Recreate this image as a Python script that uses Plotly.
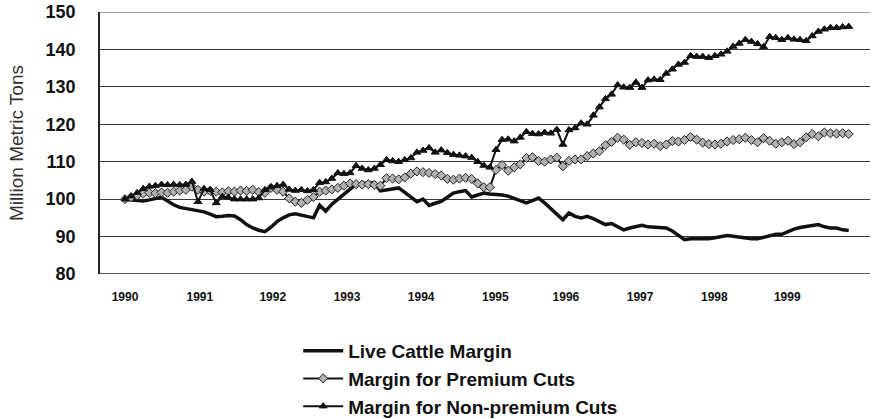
import plotly.graph_objects as go

years = ["1990", "1991", "1992", "1993", "1994", "1995", "1996", "1997", "1998", "1999"]
months = list(range(120))

live_cattle = [
    100.0, 99.8, 99.6, 99.5, 99.8, 100.2, 100.5, 99.5, 98.5, 97.8, 97.5, 97.3,
    97.0, 96.6, 96.0, 95.3, 95.4, 95.6, 95.5, 94.5, 93.2, 92.3, 91.7, 91.3,
    92.5, 94.0, 95.0, 95.8, 96.1, 95.7, 95.2, 95.0, 98.4, 96.8, 98.6, 100.0,
    101.3, 102.6, 104.0, 104.2, 104.3, 104.4, 102.2, 102.4, 102.7, 103.0, 101.8, 100.5,
    99.3, 100.0, 98.3, 98.9, 99.4, 100.5, 101.6, 102.0, 102.3, 100.6, 101.2, 101.6,
    101.4, 101.3, 101.1, 100.8, 100.2, 99.4, 99.0, 99.6, 100.3, 99.0, 97.5, 96.0,
    94.5, 96.3, 95.4, 95.0, 95.4, 94.8, 94.0, 93.2, 93.5, 92.7, 91.8, 92.3,
    92.6, 93.0, 92.6, 92.5, 92.6, 92.3, 91.5, 90.2, 89.2, 89.4, 89.4, 89.4,
    89.4, 89.7, 90.0, 90.3, 90.1, 89.8, 89.6, 89.4, 89.4, 89.8, 90.4, 90.6,
    90.6, 91.3, 92.0, 92.4, 92.6, 92.8, 93.2, 92.6, 92.3, 92.3, 91.8, 91.6,
]

premium = [
    100.0, 100.5, 101.0, 101.5, 101.7, 101.6, 101.8, 101.7, 102.0, 102.3, 102.5, 103.3,
    102.5, 102.0, 102.2, 102.0, 101.8, 102.1, 102.0, 102.3, 102.2, 102.5, 101.9, 101.7,
    103.0, 102.5, 102.0, 100.2, 99.3, 99.0, 99.8, 100.6, 102.0, 102.3, 102.6, 103.0,
    103.6, 104.2, 104.0, 103.9, 104.0, 103.8, 103.6, 105.6, 105.5, 105.3, 105.8, 106.8,
    107.4, 107.2, 107.0, 106.7, 106.3, 105.4, 105.2, 105.5, 105.7, 105.4, 104.2, 103.2,
    103.2, 107.8, 109.1, 107.6, 108.5, 109.3, 111.0, 111.2, 110.2, 110.0, 110.6, 111.1,
    108.8, 110.2, 110.6, 110.6, 111.5, 112.2, 112.8, 114.4, 115.3, 116.4, 115.9, 114.5,
    115.2, 115.0, 114.6, 114.8, 114.2, 114.6, 115.5, 115.4, 115.8, 116.6, 115.9, 115.1,
    114.7, 114.6, 114.8, 115.4, 115.8, 116.0, 116.4, 115.8, 115.2, 116.3, 115.6, 114.8,
    115.2, 115.6, 114.7, 115.2, 116.5, 117.4, 116.8, 117.8, 117.6, 117.5, 117.6, 117.4,
]

non_premium = [
    100.0, 100.8, 101.7, 102.8, 103.4, 103.6, 103.9, 103.8, 103.9, 103.8, 103.9, 104.7,
    99.3, 102.8, 102.5, 99.0, 100.7, 100.5, 100.0, 100.0, 100.0, 100.0, 100.3, 102.5,
    103.2, 103.6, 103.9, 102.6, 102.3, 102.5, 102.2, 102.5, 104.4, 104.6, 105.5, 107.0,
    106.8, 107.0, 108.9, 108.2, 107.8, 108.2, 109.2, 110.5, 110.2, 110.0, 110.5, 111.0,
    112.5, 113.0, 113.7, 112.5, 113.1, 112.4, 111.9, 111.7, 111.5, 111.1, 110.0, 109.0,
    108.5, 113.2, 115.9, 116.0, 115.5, 116.5, 118.0, 117.5, 117.4, 117.8, 117.6, 118.6,
    114.6, 118.5, 119.0, 120.3, 120.0, 122.4, 124.6, 126.8, 128.0, 130.5, 129.9, 129.8,
    131.2, 129.8, 131.8, 132.0, 131.9, 133.6, 134.7, 136.0, 136.5, 138.3, 138.1, 138.1,
    137.8, 138.3, 138.7, 139.5, 140.8, 141.6, 142.6, 142.1, 141.5, 140.7, 143.4, 143.1,
    142.6, 143.1, 142.7, 142.6, 142.3, 143.6, 144.8, 145.4, 145.8, 145.8, 146.0, 146.1,
]

y_ticks = [80, 90, 100, 110, 120, 130, 140, 150]

# positions (in month units) where the year labels sit in the original picture
year_tick_pos = [0, 12.3, 24.3, 36.5, 48.7, 60.9, 72.5, 84.7, 96.9, 108.9]

FONT = "Liberation Sans, Arial, sans-serif"

fig = go.Figure()
fig.add_trace(go.Scatter(
    x=months, y=live_cattle, mode="lines", name="<b>Live Cattle Margin</b>",
    line=dict(color="#111111", width=3.5), legendgroup="a",
))
fig.add_trace(go.Scatter(
    x=months, y=premium, mode="lines+markers", name="<b>Margin for Premium Cuts</b>",
    line=dict(color="#111111", width=2),
    marker=dict(symbol="diamond", size=7, color="#b0b0b0", line=dict(color="#222222", width=1)),
    legendgroup="b",
))
fig.add_trace(go.Scatter(
    x=months, y=non_premium, mode="lines+markers", name="<b>Margin for Non-premium Cuts</b>",
    line=dict(color="#111111", width=2),
    marker=dict(symbol="triangle-up", size=7, color="#111111", line=dict(color="#111111", width=1)),
    legendgroup="c",
))

fig.update_layout(
    width=873, height=419,
    margin=dict(l=100, r=3, t=12, b=145, autoexpand=False),
    paper_bgcolor="white", plot_bgcolor="white",
    font=dict(family=FONT, color="#111111"),
    showlegend=True,
    legend=dict(
        x=0.2574, y=-0.221, xanchor="left", yanchor="top",
        font=dict(size=19, family=FONT, color="#111111"),
        tracegroupgap=0, itemwidth=40, bgcolor="rgba(0,0,0,0)",
    ),
    xaxis=dict(
        range=[-4.11, 122.5], tickmode="array", tickvals=year_tick_pos,
        ticktext=["<b>%s</b>" % y for y in years],
        tickfont=dict(size=12, family=FONT, color="#111111"),
        showgrid=False, zeroline=False, showline=False, ticks="",
        ticklabelstandoff=14, ticklabeloverflow="allow",
    ),
    yaxis=dict(
        range=[80, 150], tickmode="array", tickvals=y_ticks,
        ticktext=["<b>%d</b>" % v for v in y_ticks],
        tickfont=dict(size=18, family=FONT, color="#111111"),
        showgrid=True, gridcolor="#3a3a3a", gridwidth=1,
        zeroline=False, showline=True, linecolor="#222222", linewidth=1.5,
        ticks="", ticklabelstandoff=19, ticklabeloverflow="allow",
        title=dict(text="Million Metric Tons", font=dict(size=19, family=FONT, color="#333333"), standoff=17),
    ),
)
# bottom frame line at 80 and top line at 150
fig.add_shape(type="line", xref="paper", yref="y", x0=0, x1=1, y0=80, y1=80,
              line=dict(color="#222222", width=1.5))
fig.add_shape(type="line", xref="paper", yref="y", x0=0, x1=1, y0=150, y1=150,
              line=dict(color="#3a3a3a", width=1))

fig.write_html("out.html", config={"displayModeBar": False},
               post_script="document.body.style.margin='0';document.body.style.overflow='hidden';")
